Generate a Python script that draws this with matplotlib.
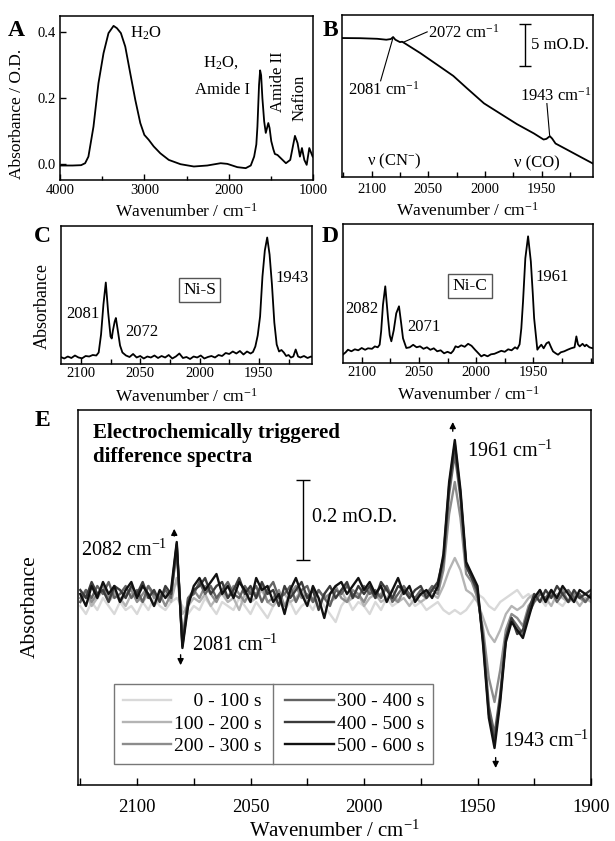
import numpy as np
import matplotlib
matplotlib.use('Agg')
import matplotlib.pyplot as plt
from matplotlib.ticker import MultipleLocator, FormatStrFormatter

plt.rcParams['font.family'] = ['Liberation Serif', 'DejaVu Serif']
plt.rcParams['mathtext.fontset'] = 'custom'
plt.rcParams['mathtext.rm'] = 'Liberation Serif'
plt.rcParams['mathtext.it'] = 'Liberation Serif:italic'
plt.rcParams['mathtext.bf'] = 'Liberation Serif:bold'
plt.rcParams['axes.linewidth'] = 1.1
plt.rcParams['xtick.direction'] = 'in'
plt.rcParams['ytick.direction'] = 'in'

# Panel A: full absorbance spectrum
wn_a = [4000, 3850, 3750, 3702, 3663, 3603, 3544, 3484, 3425, 3365,
        3325, 3278, 3226, 3167, 3107, 3048, 3000, 2948, 2889, 2810,
        2710, 2571, 2413, 2254, 2095, 2016, 1897, 1798, 1738, 1698,
        1672, 1659, 1640, 1627, 1615, 1600, 1579, 1560, 1545, 1530,
        1515, 1495, 1470, 1452, 1421, 1381, 1321, 1270, 1214, 1183,
        1155, 1131, 1103, 1075, 1044, 1004]
abs_a = [-0.004, -0.004, -0.003, 0.003, 0.023, 0.114, 0.246, 0.337, 0.398, 0.42,
         0.413, 0.398, 0.357, 0.276, 0.195, 0.125, 0.089, 0.074, 0.054, 0.033,
         0.013, 0.0, -0.007, -0.004, 0.003, 0.001, -0.009, -0.012, -0.004, 0.023,
         0.06, 0.114, 0.24, 0.285, 0.27, 0.20, 0.13, 0.095, 0.11, 0.125,
         0.11, 0.07, 0.045, 0.031, 0.028, 0.018, 0.003, 0.013, 0.086, 0.064,
         0.023, 0.049, 0.013, -0.002, 0.049, 0.023]

# Panel B: raw spectrum in the CN/CO region (mO.D.)
wn_b = [2126, 2110, 2095, 2087, 2083, 2081, 2079, 2075, 2073, 2071,
        2057, 2040, 2028, 2016, 2001, 1987, 1972, 1957, 1948.5, 1946,
        1943, 1941, 1938, 1928, 1916, 1905]
od_b = [16.47, 16.45, 16.38, 16.27, 16.35, 16.59, 16.27, 15.99, 16.03, 15.87,
        14.68, 13.10, 11.98, 10.52, 8.73, 7.54, 6.27, 5.16, 4.44, 4.52,
        4.84, 4.56, 3.97, 3.25, 2.38, 1.59]

# Panel C: Ni-S
wn_c = [2117, 2114, 2111, 2108, 2105, 2102, 2099, 2096, 2093, 2090,
        2087, 2085, 2083, 2081, 2079, 2077, 2075, 2074, 2073, 2071.5,
        2070.5, 2069, 2067, 2065, 2062, 2059, 2056, 2053, 2050, 2047,
        2044, 2041, 2038, 2035, 2032, 2029, 2026, 2023, 2020, 2017,
        2014, 2011, 2008, 2005, 2002, 1999, 1996, 1993, 1990, 1987,
        1984, 1981, 1978, 1975, 1972, 1969, 1966, 1963, 1960, 1957,
        1955, 1953, 1951, 1949, 1947, 1945, 1943, 1941, 1939, 1937,
        1935, 1933, 1931, 1929, 1927, 1925, 1923, 1921, 1919, 1917,
        1915, 1912, 1909, 1906, 1905]
abs_c = [0.75, 0.6, 0.8, 0.65, 0.9, 0.7, 0.62, 0.85, 0.8, 0.95,
         0.9, 1.2, 3.0, 6.0, 8.2, 5.2, 2.8, 2.6, 3.4, 4.3,
         4.65, 3.5, 1.9, 1.2, 0.9, 0.75, 1.05, 0.7, 0.85, 0.6,
         0.8, 0.7, 0.9, 0.65, 0.85, 0.7, 0.95, 0.6, 0.8, 1.1,
         0.65, 0.75, 0.55, 0.8, 0.7, 0.9, 0.6, 0.75, 0.85, 0.7,
         0.95, 0.85, 1.15, 1.05, 1.3, 1.1, 1.35, 1.0, 1.3, 1.1,
         1.25, 1.8, 2.9, 4.8, 8.8, 11.4, 12.7, 11.0, 8.0, 4.2,
         2.0, 1.3, 1.45, 1.2, 0.85, 0.95, 0.7, 0.8, 1.5, 0.8,
         0.7, 0.85, 0.65, 0.8, 0.75]

# Panel D: Ni-C
wn_d = [2116.5, 2114, 2112, 2109, 2106, 2103, 2100, 2097, 2094.5, 2091,
        2088.5, 2086, 2084.3, 2083, 2081.4, 2079.4, 2077, 2075.5, 2074.1, 2072,
        2069.8, 2067.4, 2065.5, 2063.9, 2061, 2058, 2055, 2052, 2049, 2046,
        2043, 2040, 2037, 2034, 2031, 2028, 2025, 2022, 2020, 2018,
        2015.8, 2013, 2010, 2007, 2004, 2001, 1998, 1995.5, 1993, 1990,
        1987, 1984, 1981, 1978, 1975, 1972, 1969, 1966, 1964, 1962,
        1960.5, 1959, 1957, 1954.6, 1952.2, 1950.5, 1949.3, 1946.5, 1945, 1943,
        1941, 1938.5, 1936.5, 1934.5, 1932.8, 1930.5, 1928.4, 1926, 1923, 1920,
        1917, 1914, 1912.4, 1911, 1909.5, 1907, 1905, 1903.7, 1901, 1899, 1897.6]
abs_d = [0.86, 1.1, 1.36, 1.2, 1.4, 1.3, 1.53, 1.35, 1.5, 1.45,
         1.69, 1.6, 1.86, 3.2, 5.86, 7.7, 4.53, 2.8, 2.2, 3.3,
         5.0, 5.7, 4.0, 2.5, 1.53, 1.6, 1.85, 1.6, 1.7, 1.45,
         1.6, 1.35, 1.5, 1.2, 1.3, 1.0, 1.15, 1.0, 1.25, 1.7,
         1.6, 1.8, 1.65, 1.95, 1.75, 1.36, 1.0, 0.69, 0.85, 0.7,
         0.9, 0.95, 1.1, 1.25, 1.15, 1.4, 1.3, 1.6, 1.45, 1.9,
         3.5, 6.2, 10.5, 12.7, 10.2, 7.0, 4.5, 1.36, 1.6, 1.86,
         1.5, 2.0, 2.13, 1.6, 1.19, 1.0, 0.86, 1.1, 1.2, 1.36,
         1.5, 1.6, 2.69, 1.9, 1.69, 1.95, 1.7, 1.86, 1.6, 1.53, 1.5]

# Panel E: difference spectra, 2125 .. 1900 cm-1 every 2.5 (mO.D.)
wn_e = np.linspace(2125, 1900, 91)
labels_e = ['    0 - 100 s', '100 - 200 s', '200 - 300 s',
            '300 - 400 s', '400 - 500 s', '500 - 600 s']
colors_e = ['#d9d9d9', '#b4b4b4', '#8c8c8c', '#636363', '#3b3b3b', '#111111']
d_0_100 = [-0.02, -0.04, -0.01, -0.03, 0.00, -0.02, -0.04, -0.01, -0.03, -0.02,
           -0.04, -0.01, -0.03, 0.00, -0.02, -0.03, -0.01, 0.00, -0.02, -0.04,
           -0.02, -0.03, 0.00, -0.02, -0.04, -0.01, -0.02, -0.03, 0.00, -0.02,
           -0.04, -0.01, -0.03, -0.05, -0.02, 0.00, -0.03, -0.01, -0.04, -0.02,
           -0.01, -0.03, 0.00, -0.02, -0.04, -0.06, -0.02, 0.00, -0.03, -0.01,
           -0.02, -0.04, -0.01, -0.03, 0.00, -0.02, -0.01, 0.02, 0.00, -0.02,
           -0.01, -0.03, -0.02, -0.01, -0.03, -0.04, -0.03, -0.04, -0.03, -0.01,
           0.01, 0.00, -0.02, -0.03, -0.01, 0.00, 0.01, 0.02, 0.00, 0.01,
           -0.01, 0.00, -0.02, 0.01, -0.01, -0.02, 0.00, -0.01, 0.01, -0.01, 0.00]
d_100_200 = [-0.01, 0.01, -0.02, 0.00, 0.02, -0.01, 0.01, 0.00, -0.02, 0.01,
             0.00, -0.01, 0.01, -0.02, 0.00, 0.01, -0.01, 0.05, -0.04, -0.02,
             0.00, -0.01, 0.01, -0.02, 0.00, 0.01, -0.01, 0.00, -0.03, 0.01,
             -0.01, 0.00, 0.02, -0.01, -0.02, 0.00, 0.01, -0.01, 0.00, 0.02,
             -0.01, 0.00, -0.02, 0.01, -0.01, 0.00, 0.02, -0.01, 0.00, 0.01,
             -0.02, 0.00, 0.01, -0.01, 0.00, 0.02, -0.01, 0.00, -0.02, 0.00,
             -0.01, 0.00, 0.01, 0.00, 0.03, 0.07, 0.10, 0.07, 0.02, 0.01,
             -0.01, -0.05, -0.09, -0.11, -0.08, -0.04, -0.02, -0.03, -0.02, 0.00,
             0.01, -0.01, 0.00, -0.02, 0.01, 0.00, -0.01, 0.00, -0.02, 0.00, -0.01]
d_200_300 = [0.00, 0.02, -0.01, 0.01, 0.03, 0.00, 0.02, -0.01, 0.01, 0.02,
             -0.01, 0.01, 0.03, 0.00, 0.01, -0.02, 0.01, 0.115, -0.10, 0.00,
             0.02, 0.00, 0.03, 0.01, -0.01, 0.02, 0.00, 0.03, 0.01, -0.01,
             0.02, 0.01, 0.03, -0.01, 0.00, 0.02, -0.02, 0.01, 0.03, 0.00,
             0.01, -0.01, 0.02, 0.00, 0.01, 0.03, 0.00, -0.01, 0.02, 0.01,
             -0.01, 0.02, 0.00, 0.01, 0.03, 0.00, -0.01, 0.02, 0.01, 0.00,
             0.01, 0.00, 0.02, 0.01, 0.07, 0.21, 0.29, 0.20, 0.06, 0.04,
             0.00, -0.08, -0.20, -0.26, -0.18, -0.08, -0.04, -0.05, -0.07, -0.02,
             0.00, 0.02, -0.01, 0.01, 0.00, 0.02, -0.01, 0.01, 0.00, -0.01, 0.01]
d_300_400 = [-0.01, 0.02, 0.00, 0.03, 0.01, 0.04, 0.00, 0.01, 0.03, 0.00,
             0.02, -0.01, 0.03, 0.01, 0.00, 0.02, 0.00, 0.13, -0.115, 0.00,
             0.01, 0.04, 0.01, 0.03, 0.00, 0.02, 0.04, 0.01, 0.00, 0.03,
             0.01, 0.03, -0.01, 0.02, 0.04, 0.00, 0.01, 0.03, -0.01, 0.02,
             0.03, -0.01, 0.02, 0.00, -0.02, 0.02, 0.01, 0.03, 0.01, 0.00,
             0.03, 0.01, 0.02, 0.00, 0.03, -0.01, 0.01, 0.03, 0.01, 0.00,
             0.02, 0.01, 0.03, 0.02, 0.09, 0.26, 0.36, 0.25, 0.08, 0.05,
             0.01, -0.10, -0.27, -0.34, -0.24, -0.10, -0.05, -0.07, -0.09, -0.04,
             -0.01, 0.01, 0.00, 0.02, -0.01, 0.01, 0.02, 0.00, 0.01, -0.01, 0.01]
d_400_500 = [0.02, 0.00, 0.04, 0.01, 0.02, -0.01, 0.03, 0.02, 0.00, 0.03,
             0.01, 0.04, 0.00, 0.02, -0.01, 0.03, 0.01, 0.135, -0.12, -0.01,
             0.02, 0.03, 0.05, 0.01, 0.03, 0.04, 0.00, 0.02, 0.05, 0.01,
             0.03, 0.00, 0.04, 0.01, 0.02, -0.02, 0.03, 0.00, 0.02, 0.04,
             0.00, 0.02, -0.03, 0.01, 0.03, 0.00, 0.02, 0.04, 0.00, 0.03,
             0.01, 0.03, 0.00, 0.04, 0.02, 0.00, 0.03, 0.02, 0.00, 0.02,
             0.03, 0.00, 0.02, 0.04, 0.10, 0.28, 0.385, 0.26, 0.08, 0.05,
             0.02, -0.11, -0.29, -0.36, -0.25, -0.10, -0.05, -0.09, -0.08, -0.03,
             0.01, -0.01, 0.02, 0.00, 0.03, 0.01, -0.01, 0.02, 0.00, 0.01, 0.02]
d_500_600 = [0.01, -0.02, 0.03, 0.00, 0.04, 0.01, 0.03, -0.01, 0.02, 0.04,
             0.00, 0.03, 0.01, -0.02, 0.02, 0.00, 0.02, 0.14, -0.125, -0.02,
             0.03, 0.05, 0.02, 0.04, 0.06, 0.01, 0.03, 0.00, 0.04, 0.02,
             -0.01, 0.05, 0.02, 0.03, -0.01, 0.01, -0.04, 0.02, 0.05, 0.01,
             -0.02, 0.03, 0.00, -0.05, 0.01, 0.03, 0.04, 0.01, 0.03, 0.05,
             0.02, 0.04, 0.01, 0.03, -0.01, 0.02, 0.05, 0.01, 0.03, -0.01,
             0.01, 0.02, 0.00, 0.03, 0.11, 0.29, 0.395, 0.27, 0.09, 0.06,
             0.03, -0.12, -0.30, -0.375, -0.26, -0.11, -0.06, -0.08, -0.10, -0.05,
             0.00, 0.02, -0.01, 0.02, 0.00, 0.03, 0.01, -0.01, 0.02, 0.01, 0.00]
series_e = [d_0_100, d_100_200, d_200_300, d_300_400, d_400_500, d_500_600]

W, H = 615, 841
XLABEL = 'Wavenumber / cm$^{-1}$'


# Place axes using pixel box of the reference
def px_axes(fig, left, top, right, bottom):
    return fig.add_axes([left / W, 1 - bottom / H, (right - left) / W, (bottom - top) / H])


def cn_co_xaxis(ax, lo, hi, size=10.5, pad=3):
    ax.set_xlim(lo, hi)
    ax.set_xticks([2100, 2050, 2000, 1950])
    ax.xaxis.set_minor_locator(MultipleLocator(25))
    ax.set_yticks([])
    ax.tick_params(axis='x', labelsize=size, length=4, width=1, pad=pad)
    ax.tick_params(axis='x', which='minor', length=3.5, width=1)


fig = plt.figure(figsize=(6.15, 8.41), dpi=100)

# ---- A
ax_a = px_axes(fig, 60, 16, 313, 180)
ax_a.plot(wn_a, abs_a, color='k', lw=1.3)
ax_a.set_xlim(4000, 1000)
ax_a.set_ylim(-0.048, 0.45)
ax_a.set_xticks([4000, 3000, 2000, 1000])
ax_a.xaxis.set_minor_locator(MultipleLocator(500))
ax_a.set_yticks([0.0, 0.2, 0.4])
ax_a.yaxis.set_major_formatter(FormatStrFormatter('%.1f'))
ax_a.tick_params(labelsize=10.5, length=4, width=1, pad=3)
ax_a.tick_params(which='minor', length=3, width=1)
ax_a.set_xlabel(XLABEL, fontsize=12.5, va='top')
ax_a.xaxis.set_label_coords(0.5, -0.14)
ax_a.set_ylabel('Absorbance / O.D.', fontsize=12.5)
ax_a.yaxis.set_label_coords(-0.14, 0.405)
ax_a.text(3167, 0.398, 'H$_2$O', fontsize=12, va='center')
ax_a.text(2095, 0.309, 'H$_2$O,', fontsize=12, ha='center', va='center')
ax_a.text(2075, 0.226, 'Amide I', fontsize=12, ha='center', va='center')
ax_a.text(1420, 0.249, 'Amide II', fontsize=12, rotation=90, ha='center', va='center')
ax_a.text(1163, 0.20, 'Nafion', fontsize=12, rotation=90, ha='center', va='center')

# ---- B
ax_b = px_axes(fig, 342, 15, 593, 177)
ax_b.plot(wn_b, od_b, color='k', lw=1.3)
cn_co_xaxis(ax_b, 2126, 1905, pad=4)
ax_b.set_ylim(0, 19.2)
ax_b.set_xlabel(XLABEL, fontsize=12.5, va='top')
ax_b.xaxis.set_label_coords(0.5, -0.155)
ax_b.errorbar([1965], [15.67], yerr=[2.5], color='k', lw=1, capsize=4, capthick=1)
ax_b.text(1960, 15.67, '5 mO.D.', fontsize=12, va='center')
ax_b.plot([2071.5, 2051], [16.0, 17.2], color='k', lw=0.8)
ax_b.text(2050, 17.1, '2072 cm$^{-1}$', fontsize=12, va='center')
ax_b.plot([2081.3, 2092], [16.4, 11.4], color='k', lw=0.8)
ax_b.text(2089, 10.4, '2081 cm$^{-1}$', fontsize=12, ha='center', va='center')
ax_b.plot([1943.2, 1945.6], [4.95, 8.7], color='k', lw=0.8)
ax_b.text(1938, 9.6, '1943 cm$^{-1}$', fontsize=12, ha='center', va='center')
ax_b.text(2080.3, 1.8, 'ν (CN$^{-}$)', fontsize=12, ha='center', va='center')
ax_b.text(1954.4, 1.65, 'ν (CO)', fontsize=12, ha='center', va='center')

# ---- C
ax_c = px_axes(fig, 60.7, 225.5, 312.3, 364.5)
ax_c.plot(wn_c, abs_c, color='k', lw=1.3)
cn_co_xaxis(ax_c, 2117, 1905, pad=2)
ax_c.set_ylim(0, 13.9)
ax_c.set_xlabel(XLABEL, fontsize=12.5, va='top')
ax_c.xaxis.set_label_coords(0.5, -0.165)
ax_c.set_ylabel('Absorbance', fontsize=13)
ax_c.yaxis.set_label_coords(-0.04, 0.42)
ax_c.text(2098.3, 5.0, '2081', fontsize=12, ha='center', va='center')
ax_c.text(2048.8, 3.2, '2072', fontsize=12, ha='center', va='center')
ax_c.text(1922.3, 8.7, '1943', fontsize=12, ha='center', va='center')
ax_c.text(2000, 7.45, 'Ni-S', fontsize=12.5, ha='center', va='center',
          bbox=dict(boxstyle='square,pad=0.25', fc='white', ec='#555555', lw=1))

# ---- D
ax_d = px_axes(fig, 342.7, 224.3, 593.3, 363.3)
ax_d.plot(wn_d, abs_d, color='k', lw=1.3)
cn_co_xaxis(ax_d, 2116.6, 1897.6, pad=2)
ax_d.set_ylim(0, 13.9)
ax_d.set_xlabel(XLABEL, fontsize=12.5, va='top')
ax_d.xaxis.set_label_coords(0.5, -0.165)
ax_d.text(2099.6, 5.4, '2082', fontsize=12, ha='center', va='center')
ax_d.text(2045.8, 3.66, '2071', fontsize=12, ha='center', va='center')
ax_d.text(1933.2, 8.66, '1961', fontsize=12, ha='center', va='center')
ax_d.text(2005.3, 7.73, 'Ni-C', fontsize=12.5, ha='center', va='center',
          bbox=dict(boxstyle='square,pad=0.25', fc='white', ec='#555555', lw=1))

# ---- E
ax_e = px_axes(fig, 78, 410, 591, 785)
lines = []
for vals, col, lab in zip(series_e, colors_e, labels_e):
    ln, = ax_e.plot(wn_e, vals, color=col, lw=1.7, label=lab)
    lines.append(ln)
ax_e.set_xlim(2126, 1900)
ax_e.set_ylim(-0.4675, 0.47)
ax_e.set_xticks([2100, 2050, 2000, 1950, 1900])
ax_e.xaxis.set_minor_locator(MultipleLocator(25))
ax_e.set_yticks([])
ax_e.tick_params(axis='x', labelsize=13.5, length=5, width=1, pad=10)
ax_e.tick_params(axis='x', which='minor', length=5, width=1)
ax_e.set_xlabel(XLABEL, fontsize=15, va='top')
ax_e.xaxis.set_label_coords(0.5, -0.095)
ax_e.set_ylabel('Absorbance', fontsize=15.5)
ax_e.yaxis.set_label_coords(-0.075, 0.475)

ax_e.text(0.030, 0.965, 'Electrochemically triggered\ndifference spectra',
          transform=ax_e.transAxes, fontsize=15, fontweight='bold',
          ha='left', va='top', linespacing=1.25)
ax_e.errorbar([2027], [0.195], yerr=[0.1], color='k', lw=1, capsize=5, capthick=1)
ax_e.text(2023, 0.2, '0.2 mO.D.', fontsize=14.5, va='center')
ax_e.text(2086.5, 0.12, '2082 cm$^{-1}$', fontsize=14.5, ha='right', va='center')
ax_e.text(1954.8, 0.366, '1961 cm$^{-1}$', fontsize=14.5, ha='left', va='center')
ax_e.text(2075.8, -0.1175, '2081 cm$^{-1}$', fontsize=14.5, ha='left', va='center')
ax_e.text(1938.8, -0.359, '1943 cm$^{-1}$', fontsize=14.5, ha='left', va='center')
arrow = dict(arrowstyle='-|>', color='k', lw=1, mutation_scale=9)
ax_e.annotate('', xy=(2083.6, 0.18), xytext=(2083.6, 0.148), arrowprops=arrow)
ax_e.annotate('', xy=(1960.9, 0.447), xytext=(1960.9, 0.41), arrowprops=arrow)
ax_e.annotate('', xy=(2080.8, -0.175), xytext=(2080.8, -0.135), arrowprops=arrow)
ax_e.annotate('', xy=(1942, -0.432), xytext=(1942, -0.392), arrowprops=arrow)

leg = ax_e.legend(handles=lines, ncol=2, loc='lower left', bbox_to_anchor=(0.070, 0.056),
                  borderaxespad=0, fontsize=14, frameon=True, fancybox=False,
                  edgecolor='#777777', framealpha=1, handlelength=2.5,
                  handletextpad=0.15, columnspacing=1.2, labelspacing=0.25,
                  borderpad=0.45)
leg.get_frame().set_linewidth(1)

fig.canvas.draw()
bb = leg.get_window_extent().transformed(fig.transFigure.inverted())
xm = (bb.x0 + bb.x1) / 2
fig.add_artist(plt.Line2D([xm, xm], [bb.y0, bb.y1], color='#777777', lw=1,
                          transform=fig.transFigure))

# panel letters
for letter, x, y in [('A', 16, 30), ('B', 330, 30), ('C', 42, 237),
                     ('D', 330, 237), ('E', 42, 420)]:
    fig.text(x / W, 1 - y / H, letter, fontsize=17, fontweight='bold',
             ha='center', va='center')

fig.savefig('out.png', dpi=100)
